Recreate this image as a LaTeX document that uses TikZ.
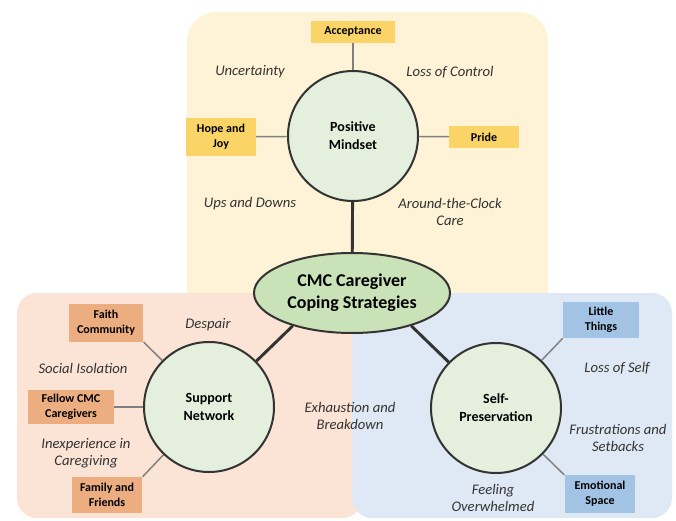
\documentclass[tikz,border=0pt]{standalone}
\usepackage{fontspec}
\setmainfont{Carlito}
\usetikzlibrary{positioning,shapes.geometric}

\definecolor{paneltop}{HTML}{FEF3D6}
\definecolor{panelleft}{HTML}{FBE4D5}
\definecolor{panelright}{HTML}{DFE9F5}
\definecolor{tagyellow}{HTML}{FAD467}
\definecolor{tagorange}{HTML}{ECAE80}
\definecolor{tagblue}{HTML}{A3C3E4}
\definecolor{circfill}{HTML}{E4F0DD}
\definecolor{hubfill}{HTML}{C9E2B8}
\definecolor{ink}{HTML}{333333}

\tikzset{
  theme/.style={font=\fontsize{11}{12.5}\selectfont\itshape, text=ink, align=center},
  tag/.style 2 args={font=\fontsize{9}{11.5}\selectfont\bfseries, align=center, inner sep=0pt,
    minimum width=#1pt, minimum height=#2pt},
  strategy/.style={circle, draw=ink, line width=1.5pt, fill=circfill, minimum size=97.5pt,
    font=\fontsize{10.5}{13.5}\selectfont\bfseries, align=center},
  spoke/.style={draw=gray, line width=1.1pt},
  trunk/.style={draw=ink, line width=2.2pt},
}

\begin{document}
\begin{tikzpicture}[x=0.75pt,y=-0.75pt]
\pgfmathsetmacro{\corner}{22};

\useasboundingbox (0,0) rectangle (676,521);

% panels
\fill[paneltop, rounded corners=\corner pt] (187,12) rectangle (548,320);
\fill[panelleft, rounded corners=15pt] (17,293) rectangle (362,518);
\fill[panelright, rounded corners=15pt] (352,293) rectangle (672,518);

% hub and strategies
\node[ellipse, draw=ink, line width=1.5pt, fill=hubfill, minimum width=147pt, minimum height=60pt,
  font=\fontsize{13.5}{16.5}\selectfont\bfseries, align=center, inner sep=0pt] (hub) at (352,293) {CMC Caregiver\\Coping Strategies};
\node[strategy] (pm) at (353,136) {Positive\\Mindset};
\node[strategy] (sn) at (209,407) {Support\\Network};
\node[strategy] (sp) at (496,408) {Self-\\Preservation};

\draw[trunk] (pm) -- (hub);
\draw[trunk] (hub.209) -- (sn);
\draw[trunk] (hub.331) -- (sp);

% positive mindset
\begin{scope}
\node[tag={63}{16}, fill=tagyellow] (accept) at (353,32) {Acceptance};
\node[tag={52}{28}, fill=tagyellow] (hope) at (221,137) {Hope and\\Joy};
\node[tag={52}{17}, fill=tagyellow] (pride) at (484,137) {Pride};
\draw[spoke] (accept) -- (pm);
\draw[spoke] (hope) -- (pm);
\draw[spoke] (pride) -- (pm);

\node[theme] (uncert) at (250,72) {Uncertainty};
\node[theme] (control) at (450,72) {Loss of Control};
\node[theme] (ups) at (250,204) {Ups and Downs};
\node[theme] (clock) at (450,212) {Around-the-Clock\\Care};
\end{scope}

% support network
\begin{scope}
\node[tag={56}{28}, fill=tagorange] (faith) at (106,323) {Faith\\Community};
\node[tag={64}{26}, fill=tagorange] (fellow) at (71,407) {Fellow CMC\\Caregivers};
\node[tag={53}{27}, fill=tagorange] (family) at (107,495) {Family and\\Friends};
\draw[spoke] (faith.south east) -- (sn);
\draw[spoke] (fellow) -- (sn);
\draw[spoke] (family.north east) -- (sn);

\node[theme] (despair) at (208,325) {Despair};
\node[theme] (isolation) at (83,368) {Social Isolation};
\node[theme] (inexp) at (86,453) {Inexperience in\\Caregiving};
\node[theme] (exhaust) at (350,416) {Exhaustion and\\Breakdown};
\end{scope}

% self-preservation
\begin{scope}
\node[tag={57}{27}, fill=tagblue] (little) at (601,320) {Little\\Things};
\node[tag={53}{28}, fill=tagblue] (emo) at (600,494) {Emotional\\Space};
\draw[spoke] (little.south west) -- (sp);
\draw[spoke] (emo.north west) -- (sp);

\node[theme] (lossself) at (617,368) {Loss of Self};
\node[theme] (frust) at (618,438) {Frustrations and\\Setbacks};
\node[theme] (overwh) at (493,498) {Feeling\\Overwhelmed};
\end{scope}
\end{tikzpicture}
\end{document}
